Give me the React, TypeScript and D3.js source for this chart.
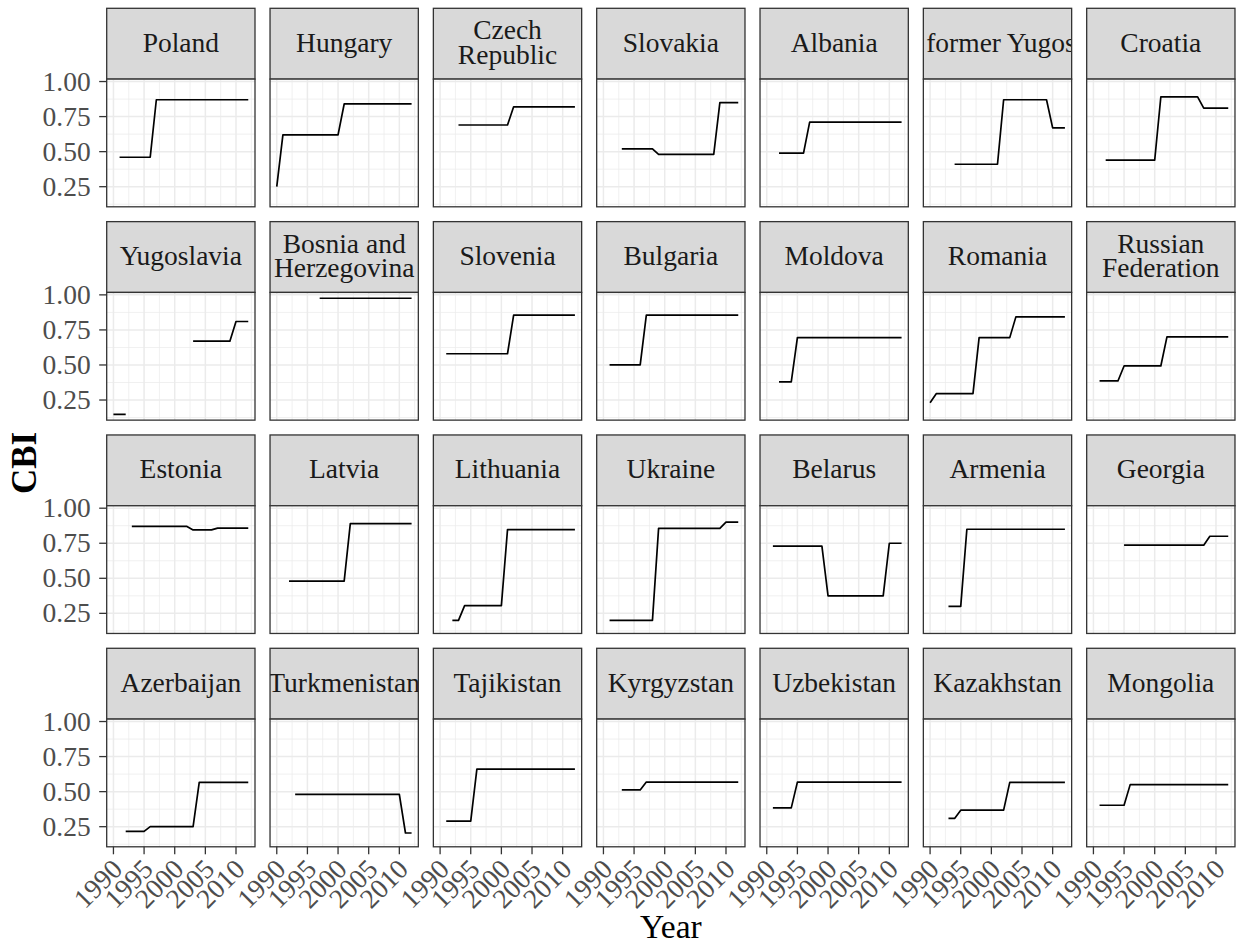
import React from "react";
import * as d3 from "d3";

const N = null;

const years = [1990, 1991, 1992, 1993, 1994, 1995, 1996, 1997, 1998, 1999, 2000, 2001, 2002, 2003, 2004, 2005, 2006, 2007, 2008, 2009, 2010, 2011, 2012];

const countries = [
  "Poland", "Hungary", "Czech\nRepublic", "Slovakia", "Albania", "Macedonia, the former Yugoslav Republic of", "Croatia",
  "Yugoslavia", "Bosnia and\nHerzegovina", "Slovenia", "Bulgaria", "Moldova", "Romania", "Russian\nFederation",
  "Estonia", "Latvia", "Lithuania", "Ukraine", "Belarus", "Armenia", "Georgia",
  "Azerbaijan", "Turkmenistan", "Tajikistan", "Kyrgyzstan", "Uzbekistan", "Kazakhstan", "Mongolia",
];

const poland = [N, .46, .46, .46, .46, .46, .46, .87, .87, .87, .87, .87, .87, .87, .87, .87, .87, .87, .87, .87, .87, .87, .87];
const hungary = [.25, .62, .62, .62, .62, .62, .62, .62, .62, .62, .62, .84, .84, .84, .84, .84, .84, .84, .84, .84, .84, .84, .84];
const czech = [N, N, N, .69, .69, .69, .69, .69, .69, .69, .69, .69, .82, .82, .82, .82, .82, .82, .82, .82, .82, .82, .82];
const slovakia = [N, N, N, .52, .52, .52, .52, .52, .52, .48, .48, .48, .48, .48, .48, .48, .48, .48, .48, .85, .85, .85, .85];
const albania = [N, N, .49, .49, .49, .49, .49, .71, .71, .71, .71, .71, .71, .71, .71, .71, .71, .71, .71, .71, .71, .71, .71];
const macedonia = [N, N, N, N, .41, .41, .41, .41, .41, .41, .41, .41, .87, .87, .87, .87, .87, .87, .87, .87, .67, .67, .67];
const croatia = [N, N, .44, .44, .44, .44, .44, .44, .44, .44, .44, .89, .89, .89, .89, .89, .89, .89, .81, .81, .81, .81, .81];
const yugoslavia = [.148, .148, .148, N, N, N, N, N, N, N, N, N, N, .67, .67, .67, .67, .67, .67, .67, .81, .81, .81];
const bosnia = [N, N, N, N, N, N, N, .976, .976, .976, .976, .976, .976, .976, .976, .976, .976, .976, .976, .976, .976, .976, .976];
const slovenia = [N, .58, .58, .58, .58, .58, .58, .58, .58, .58, .58, .58, .855, .855, .855, .855, .855, .855, .855, .855, .855, .855, .855];
const bulgaria = [N, .50, .50, .50, .50, .50, .50, .855, .855, .855, .855, .855, .855, .855, .855, .855, .855, .855, .855, .855, .855, .855, .855];
const moldova = [N, N, .38, .38, .38, .695, .695, .695, .695, .695, .695, .695, .695, .695, .695, .695, .695, .695, .695, .695, .695, .695, .695];
const romania = [.23, .295, .295, .295, .295, .295, .295, .295, .695, .695, .695, .695, .695, .695, .843, .843, .843, .843, .843, .843, .843, .843, .843];
const russia = [N, .386, .386, .386, .386, .493, .493, .493, .493, .493, .493, .493, .70, .70, .70, .70, .70, .70, .70, .70, .70, .70, .70];
const estonia = [N, N, N, .87, .87, .87, .87, .87, .87, .87, .87, .87, .87, .845, .845, .845, .845, .858, .858, .858, .858, .858, .858];
const latvia = [N, N, .48, .48, .48, .48, .48, .48, .48, .48, .48, .48, .89, .89, .89, .89, .89, .89, .89, .89, .89, .89, .89];
const lithuania = [N, N, .20, .20, .305, .305, .305, .305, .305, .305, .305, .847, .847, .847, .847, .847, .847, .847, .847, .847, .847, .847, .847];
const ukraine = [N, .20, .20, .20, .20, .20, .20, .20, .20, .856, .856, .856, .856, .856, .856, .856, .856, .856, .856, .856, .90, .90, .90];
const belarus = [N, .73, .73, .73, .73, .73, .73, .73, .73, .73, .374, .374, .374, .374, .374, .374, .374, .374, .374, .374, .75, .75, .75];
const armenia = [N, N, N, .30, .30, .30, .85, .85, .85, .85, .85, .85, .85, .85, .85, .85, .85, .85, .85, .85, .85, .85, .85];
const georgia = [N, N, N, N, N, .736, .736, .736, .736, .736, .736, .736, .736, .736, .736, .736, .736, .736, .736, .80, .80, .80, .80];
const azerbaijan = [N, N, .217, .217, .217, .217, .25, .25, .25, .25, .25, .25, .25, .25, .566, .566, .566, .566, .566, .566, .566, .566, .566];
const turkmenistan = [N, N, N, .48, .48, .48, .48, .48, .48, .48, .48, .48, .48, .48, .48, .48, .48, .48, .48, .48, .48, .205, .205];
const tajikistan = [N, .29, .29, .29, .29, .29, .66, .66, .66, .66, .66, .66, .66, .66, .66, .66, .66, .66, .66, .66, .66, .66, .66];
const kyrgyzstan = [N, N, N, .512, .512, .512, .512, .568, .568, .568, .568, .568, .568, .568, .568, .568, .568, .568, .568, .568, .568, .568, .568];
const uzbekistan = [N, .384, .384, .384, .384, .568, .568, .568, .568, .568, .568, .568, .568, .568, .568, .568, .568, .568, .568, .568, .568, .568, .568];
const kazakhstan = [N, N, N, .309, .309, .368, .368, .368, .368, .368, .368, .368, .368, .566, .566, .566, .566, .566, .566, .566, .566, .566, .566];
const mongolia = [N, .403, .403, .403, .403, .403, .55, .55, .55, .55, .55, .55, .55, .55, .55, .55, .55, .55, .55, .55, .55, .55, .55];

const seriesList = [
  poland, hungary, czech, slovakia, albania, macedonia, croatia,
  yugoslavia, bosnia, slovenia, bulgaria, moldova, romania, russia,
  estonia, latvia, lithuania, ukraine, belarus, armenia, georgia,
  azerbaijan, turkmenistan, tajikistan, kyrgyzstan, uzbekistan, kazakhstan, mongolia,
];

const xTicks = [1990, 1995, 2000, 2005, 2010];
const xMinor = [1992.5, 1997.5, 2002.5, 2007.5, 2012.5];
const yTicks = [0.25, 0.5, 0.75, 1.0];
const yTickLabels = ["0.25", "0.50", "0.75", "1.00"];
const yMinor = [0.125, 0.375, 0.625, 0.875];

const W = 1239;
const H = 945;
const NCOL = 7;
const left0 = 106.7;
const top0 = 8.3;
const colStep = 163.33;
const rowStep = 213.33;
const panelW = 148.3;
const stripH = 70.8;
const panelH = 127.7;
const FONT = "'Liberation Serif', 'Times New Roman', Times, serif";
const SMALL = 27.5;

export default function App() {
  const xExt = d3.extent(years) as [number, number];
  const xPad = (xExt[1] - xExt[0]) * 0.05;
  const x = d3.scaleLinear().domain([xExt[0] - xPad, xExt[1] + xPad]).range([0, panelW]);
  const allVals = seriesList.flat().filter((v) => v !== null) as number[];
  const yExt = d3.extent(allVals) as [number, number];
  const yPad = (yExt[1] - yExt[0]) * 0.05;
  const y = d3.scaleLinear().domain([yExt[0] - yPad, yExt[1] + yPad]).range([panelH, 0]);

  const line = d3
    .line<number | null>()
    .defined((d) => d !== null)
    .x((_, i) => x(years[i]))
    .y((d) => y(d as number));

  const nRows = Math.ceil(countries.length / NCOL);
  const lastPanelBottom = top0 + (nRows - 1) * rowStep + stripH + panelH;

  return (
    <svg width={W} height={H} style={{ position: "absolute", left: 0, top: 0, background: "#fff" }} fontFamily={FONT}>
      <rect x={0} y={0} width={W} height={H} fill="#fff" />
      {countries.map((name, k) => {
        const col = k % NCOL;
        const row = Math.floor(k / NCOL);
        const px = left0 + col * colStep;
        const sy = top0 + row * rowStep;
        const py = sy + stripH;
        const lines = name.split("\n");
        const cid = `clip-strip-${k}`;
        return (
          <g key={k}>
            <defs>
              <clipPath id={cid}>
                <rect x={px} y={sy} width={panelW} height={stripH} />
              </clipPath>
            </defs>
            <rect x={px} y={sy} width={panelW} height={stripH} fill="#D9D9D9" />
            <g clipPath={`url(#${cid})`}>
              {lines.map((ln, j) => (
                <text
                  key={j}
                  x={px + panelW / 2}
                  y={lines.length === 1 ? sy + 43.4 : sy + 31 + j * 24.2}
                  textAnchor="middle"
                  fontSize={SMALL}
                  fill="#1A1A1A"
                >
                  {ln}
                </text>
              ))}
            </g>
            <rect x={px} y={sy} width={panelW} height={stripH} fill="none" stroke="#333333" strokeWidth={1.3} />
            <g transform={`translate(${px},${py})`}>
              <rect x={0} y={0} width={panelW} height={panelH} fill="#fff" />
              {yMinor.map((v) => (
                <line key={"ym" + v} x1={0} x2={panelW} y1={y(v)} y2={y(v)} stroke="#EBEBEB" strokeWidth={0.75} />
              ))}
              {xMinor.map((v) => (
                <line key={"xm" + v} x1={x(v)} x2={x(v)} y1={0} y2={panelH} stroke="#EBEBEB" strokeWidth={0.75} />
              ))}
              {yTicks.map((v) => (
                <line key={"yM" + v} x1={0} x2={panelW} y1={y(v)} y2={y(v)} stroke="#EBEBEB" strokeWidth={1.5} />
              ))}
              {xTicks.map((v) => (
                <line key={"xM" + v} x1={x(v)} x2={x(v)} y1={0} y2={panelH} stroke="#EBEBEB" strokeWidth={1.5} />
              ))}
              <path d={line(seriesList[k]) || ""} fill="none" stroke="#000" strokeWidth={1.7} strokeLinejoin="round" />
              <rect x={0} y={0} width={panelW} height={panelH} fill="none" stroke="#333333" strokeWidth={1.3} />
              {col === 0 &&
                yTicks.map((v, i) => (
                  <g key={"yt" + v}>
                    <line x1={-7.5} x2={0} y1={y(v)} y2={y(v)} stroke="#333333" strokeWidth={1.3} />
                    <text x={-16} y={y(v)} dy="0.33em" textAnchor="end" fontSize={SMALL} fill="#4D4D4D">
                      {yTickLabels[i]}
                    </text>
                  </g>
                ))}
              {row === nRows - 1 &&
                xTicks.map((v) => (
                  <g key={"xt" + v}>
                    <line x1={x(v)} x2={x(v)} y1={panelH} y2={panelH + 7.5} stroke="#333333" strokeWidth={1.3} />
                    <text
                      transform={`translate(${x(v) + 10.5},${panelH + 24}) rotate(-45)`}
                      textAnchor="end"
                      fontSize={SMALL}
                      fill="#4D4D4D"
                    >
                      {String(v)}
                    </text>
                  </g>
                ))}
            </g>
          </g>
        );
      })}
      <text x={left0 + (6 * colStep + panelW) / 2} y={938} textAnchor="middle" fontSize={33.5} fill="#000">
        Year
      </text>
      <text
        transform={`translate(36,${(top0 + stripH + lastPanelBottom) / 2}) rotate(-90)`}
        textAnchor="middle"
        fontSize={35}
        fontWeight="bold"
        fill="#000"
      >
        CBI
      </text>
    </svg>
  );
}
